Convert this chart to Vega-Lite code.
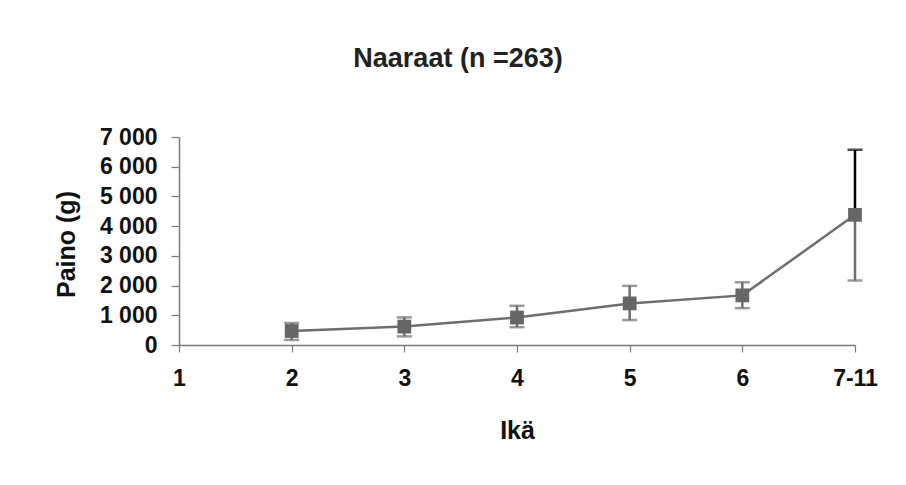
{
  "$schema": "https://vega.github.io/schema/vega-lite/v6.json",
  "autosize": "none",
  "width": 676,
  "height": 208,
  "padding": {"left": 179, "top": 137, "right": 51, "bottom": 140},
  "background": "white",
  "config": {
    "font": "Liberation Sans",
    "view": {"stroke": null},
    "axis": {"grid": false, "domainColor": "#7a7a7a", "tickColor": "#7a7a7a", "domainWidth": 1.5, "tickWidth": 1.2, "labelColor": "#111", "titleColor": "#111", "labelFont": "Liberation Sans", "titleFont": "Liberation Sans", "labelFontWeight": "bold"}
  },
  "title": {
    "text": "Naaraat (n =263)",
    "fontSize": 27,
    "fontWeight": "bold",
    "color": "#222",
    "anchor": "middle",
    "frame": "group",
    "dx": -59,
    "offset": 53
  },
  "data": {
    "values": [
      {"age": "2", "mean": 470, "lo": 170, "hi": 740},
      {"age": "3", "mean": 620, "lo": 290, "hi": 930},
      {"age": "4", "mean": 925, "lo": 600, "hi": 1320},
      {"age": "5", "mean": 1400, "lo": 840, "hi": 1990},
      {"age": "6", "mean": 1670, "lo": 1240, "hi": 2110},
      {"age": "7-11", "mean": 4380, "lo": 2170, "hi": 6570}
    ]
  },
  "encoding": {
    "x": {
      "field": "age",
      "type": "ordinal",
      "scale": {"type": "point", "domain": ["1", "2", "3", "4", "5", "6", "7-11"], "padding": 0},
      "axis": {
        "title": "Ikä",
        "labelAngle": 0,
        "labelFontSize": 23,
        "labelPadding": 15,
        "labelOverlap": false,
        "tickSize": 7,
        "titleFontSize": 25,
        "titleFontWeight": "bold",
        "titleY": 85,
        "titleBaseline": "middle"
      }
    }
  },
  "layer": [
    {
      "mark": {"type": "line", "color": "#6e6e6e", "strokeWidth": 2.5},
      "encoding": {
        "y": {"field": "mean", "type": "quantitative", "scale": {"domain": [0, 7000], "nice": false}, "axis": {"title": "Paino (g)", "values": [0, 1000, 2000, 3000, 4000, 5000, 6000, 7000], "labelExpr": "replace(format(datum.value, ','), ',', ' ')", "labelOverlap": false, "labelSeparation": 0, "labelBound": false, "labelFlush": false, "labelFontSize": 23, "labelPadding": 14, "tickSize": 8, "titleFontSize": 25, "titleFontWeight": "bold", "titleAngle": -90, "titleX": -113, "titleY": 107, "titleAlign": "center", "titleBaseline": "middle"}}
      }
    },
    {
      "mark": {"type": "rule", "strokeWidth": 2.5, "color": "#6e6e6e"},
      "encoding": {
        "y": {"field": "lo", "type": "quantitative", "axis": {"title": "Paino (g)", "values": [0, 1000, 2000, 3000, 4000, 5000, 6000, 7000], "labelExpr": "replace(format(datum.value, ','), ',', ' ')", "labelOverlap": false, "labelSeparation": 0, "labelBound": false, "labelFlush": false, "labelFontSize": 23, "labelPadding": 14, "tickSize": 8, "titleFontSize": 25, "titleFontWeight": "bold", "titleAngle": -90, "titleX": -113, "titleY": 107, "titleAlign": "center", "titleBaseline": "middle"}},
        "y2": {"field": "mean"}
      }
    },
    {
      "mark": {"type": "rule", "strokeWidth": 2.5},
      "encoding": {
        "y": {"field": "mean", "type": "quantitative", "axis": {"title": "Paino (g)", "values": [0, 1000, 2000, 3000, 4000, 5000, 6000, 7000], "labelExpr": "replace(format(datum.value, ','), ',', ' ')", "labelOverlap": false, "labelSeparation": 0, "labelBound": false, "labelFlush": false, "labelFontSize": 23, "labelPadding": 14, "tickSize": 8, "titleFontSize": 25, "titleFontWeight": "bold", "titleAngle": -90, "titleX": -113, "titleY": 107, "titleAlign": "center", "titleBaseline": "middle"}},
        "y2": {"field": "hi"},
        "color": {"condition": {"test": "datum.age === '7-11'", "value": "#000000"}, "value": "#6e6e6e"}
      }
    },
    {
      "mark": {"type": "tick", "orient": "horizontal", "size": 15, "thickness": 2.5, "color": "#6e6e6e"},
      "encoding": {"y": {"field": "lo", "type": "quantitative", "axis": {"title": "Paino (g)", "values": [0, 1000, 2000, 3000, 4000, 5000, 6000, 7000], "labelExpr": "replace(format(datum.value, ','), ',', ' ')", "labelOverlap": false, "labelSeparation": 0, "labelBound": false, "labelFlush": false, "labelFontSize": 23, "labelPadding": 14, "tickSize": 8, "titleFontSize": 25, "titleFontWeight": "bold", "titleAngle": -90, "titleX": -113, "titleY": 107, "titleAlign": "center", "titleBaseline": "middle"}}}
    },
    {
      "mark": {"type": "tick", "orient": "horizontal", "size": 15, "thickness": 2.5},
      "encoding": {
        "y": {"field": "hi", "type": "quantitative", "axis": {"title": "Paino (g)", "values": [0, 1000, 2000, 3000, 4000, 5000, 6000, 7000], "labelExpr": "replace(format(datum.value, ','), ',', ' ')", "labelOverlap": false, "labelSeparation": 0, "labelBound": false, "labelFlush": false, "labelFontSize": 23, "labelPadding": 14, "tickSize": 8, "titleFontSize": 25, "titleFontWeight": "bold", "titleAngle": -90, "titleX": -113, "titleY": 107, "titleAlign": "center", "titleBaseline": "middle"}},
        "color": {"condition": {"test": "datum.age === '7-11'", "value": "#000000"}, "value": "#6e6e6e"}
      }
    },
    {
      "mark": {"type": "point", "shape": "square", "filled": true, "size": 190, "color": "#666666", "opacity": 1},
      "encoding": {"y": {"field": "mean", "type": "quantitative", "axis": {"title": "Paino (g)", "values": [0, 1000, 2000, 3000, 4000, 5000, 6000, 7000], "labelExpr": "replace(format(datum.value, ','), ',', ' ')", "labelOverlap": false, "labelSeparation": 0, "labelBound": false, "labelFlush": false, "labelFontSize": 23, "labelPadding": 14, "tickSize": 8, "titleFontSize": 25, "titleFontWeight": "bold", "titleAngle": -90, "titleX": -113, "titleY": 107, "titleAlign": "center", "titleBaseline": "middle"}}}
    }
  ]
}
